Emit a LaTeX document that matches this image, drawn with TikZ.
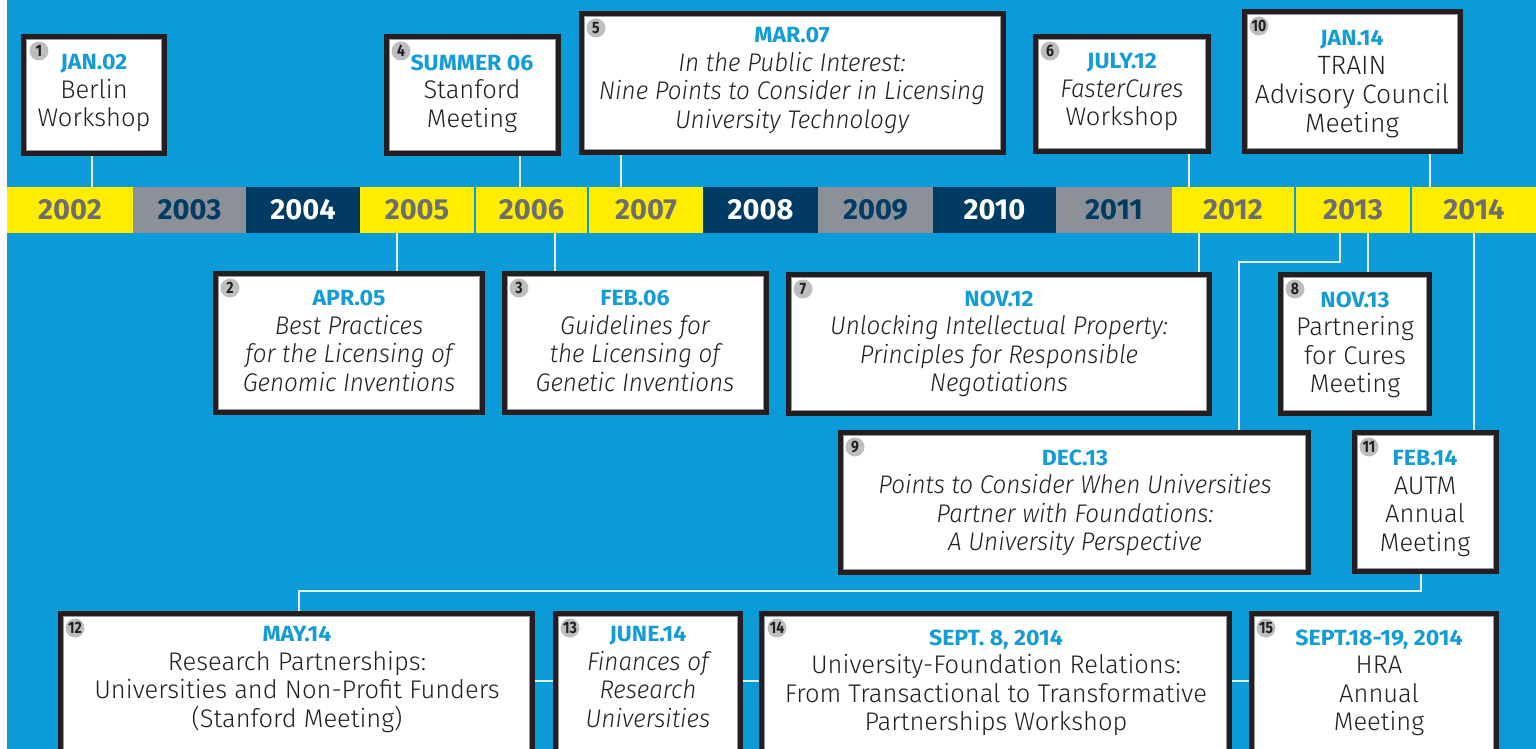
\documentclass[tikz,border=0pt]{standalone}
\usepackage{fontspec}
\setmainfont{Fira Sans}[UprightFont=* Light, ItalicFont=* Light Italic, BoldFont=* Bold, ItalicFeatures={FakeStretch=0.95}]
\newfontfamily\evdatefont{Fira Sans}[UprightFont=* Bold, ItalicFont=* Bold, FakeStretch=1.05]
\newfontfamily\evbadgefont{Fira Sans}[UprightFont=* Bold, ItalicFont=* Bold, FakeStretch=0.85]
\newfontfamily\evyearfont{Fira Sans}[UprightFont=* Bold]
\usetikzlibrary{backgrounds}
\definecolor{bg}{RGB}{11,155,216}
\definecolor{datec}{RGB}{20,156,215}
\definecolor{ink}{RGB}{35,31,32}
\definecolor{yel}{RGB}{255,237,0}
\definecolor{gry}{RGB}{140,144,153}
\definecolor{navy}{RGB}{0,59,100}
\definecolor{yeartxt}{RGB}{109,110,113}
\definecolor{badgec}{RGB}{188,190,192}
\definecolor{connc}{RGB}{225,240,248}
\newcommand\evdate[1]{{\upshape\evdatefont\fontsize{22}{28}\selectfont\color{datec}#1}}
\tikzset{
  evbox/.style={draw=ink, fill=white, line width=5pt, inner sep=0pt, outer sep=0pt, rectangle},
  innerl/.style={draw=black!40, line width=0.8pt},
  badge/.style={circle, fill=badgec, minimum size=19pt, inner sep=0pt, text=ink,
    font=\evbadgefont\fontsize{16.5}{16.5}\selectfont},
  txt/.style={align=center, text=ink, inner sep=0pt, anchor=north,
    font=\fontsize{25.5}{28.5}\selectfont},
  ittxt/.style={txt, font=\fontsize{25.5}{28.5}\selectfont\itshape},
  bigtxt/.style={txt, font=\fontsize{26.5}{28.8}\selectfont},
  seg/.style={rectangle, inner sep=0pt, outer sep=0pt, draw=none,
    font=\evyearfont\fontsize{29}{29}\selectfont},
  conn/.style={draw=connc, line width=1.5pt}
}
\newcommand\evbx[5]{%
  \node[evbox, minimum width={#4-#2-5}, minimum height={#5-#3-5}] (#1) at ({(#2+#4)/2},{(#3+#5)/2}) {};
  \draw[innerl] ([shift={(3,3)}]#1.north west) rectangle ([shift={(-3,-3)}]#1.south east);
}
\newcommand\yr[5]{\node[seg, fill=#4, text=#5, minimum width={#3-#2}, minimum height=46] (y#1) at ({(#2+#3)/2},210) {#1};}
\begin{document}
\begin{tikzpicture}[x=1pt,y=-1pt]
\useasboundingbox (0,0) rectangle (1536,749);
\begin{scope}[on background layer]
  \fill[white] (0,0) rectangle (1536,749);
  \fill[bg] (7,0) rectangle (1536,749);
\end{scope}
\clip (0,0) rectangle (1536,749);
% year bar
\yr{2002}{7}{133}{yel}{yeartxt}
\yr{2003}{133}{246}{gry}{navy}
\yr{2004}{246}{360}{navy}{white}
\yr{2005}{360}{474}{yel}{yeartxt}
\yr{2006}{476}{587}{yel}{yeartxt}
\yr{2007}{589}{703}{yel}{yeartxt}
\yr{2008}{703}{818}{navy}{white}
\yr{2009}{818}{933}{gry}{navy}
\yr{2010}{933}{1056}{navy}{white}
\yr{2011}{1056}{1172}{gry}{navy}
\yr{2012}{1172}{1294}{yel}{yeartxt}
\yr{2013}{1296}{1410}{yel}{yeartxt}
\yr{2014}{1412}{1536}{yel}{yeartxt}
% boxes
\evbx{b1}{21}{34}{167}{156}
\evbx{b4}{384}{34}{561}{156}
\evbx{b5}{579}{11}{1006}{155}
\evbx{b6}{1033}{34}{1211}{154}
\evbx{b10}{1242}{9}{1463}{154}
\evbx{b2}{213}{271}{485}{415}
\evbx{b3}{502}{271}{769}{415}
\evbx{b7}{786}{272}{1212}{416}
\evbx{b8}{1278}{272}{1432}{416}
\evbx{b9}{838}{430}{1311}{575}
\evbx{b11}{1352}{430}{1499}{574}
\evbx{b12}{58}{611}{535}{770}
\evbx{b13}{553}{611}{743}{770}
\evbx{b14}{759}{611}{1232}{770}
\evbx{b15}{1249}{611}{1499}{770}
% badges
\node[badge] (n1) at (39,51) {1};
\node[badge] (n4) at (401,51) {4};
\node[badge] (n5) at (596,28) {5};
\node[badge] (n6) at (1050,51) {6};
\node[badge] (n10) at (1259,26) {10};
\node[badge] (n2) at (230,288) {2};
\node[badge] (n3) at (519,288) {3};
\node[badge] (n7) at (803,289) {7};
\node[badge] (n8) at (1295,289) {8};
\node[badge] (n9) at (855,447) {9};
\node[badge] (n11) at (1369,447) {11};
\node[badge] (n12) at (75,628) {12};
\node[badge] (n13) at (570,628) {13};
\node[badge] (n14) at (777,628) {14};
\node[badge] (n15) at (1266,628) {15};
% texts
\node[txt] (t1) at (94,54.5) {\evdate{JAN.02}\\Berlin\\Workshop};
\node[txt] (t4) at (472,54.5) {\evdate{SUMMER 06}\\Stanford\\Meeting};
\node[ittxt] (t5) at (792,27.5) {\evdate{MAR.07}\\In the Public Interest:\\Nine Points to Consider in Licensing\\University Technology};
\node[txt] (t6) at (1122,53.5) {\evdate{JULY.12}\\\textit{FasterCures}\\Workshop};
\node[bigtxt] (t10) at (1352,30.5) {\evdate{JAN.14}\\TRAIN\\Advisory Council\\Meeting};
\node[ittxt] (t2) at (349,290.5) {\evdate{APR.05}\\Best Practices\\for the Licensing of\\Genomic Inventions};
\node[ittxt] (t3) at (635,290.5) {\evdate{FEB.06}\\Guidelines for\\the Licensing of\\Genetic Inventions};
\node[ittxt] (t7) at (999,290.5) {\evdate{NOV.12}\\Unlocking Intellectual Property:\\Principles for Responsible\\Negotiations};
\node[txt] (t8) at (1355,291.5) {\evdate{NOV.13}\\Partnering\\for Cures\\Meeting};
\node[ittxt] (t9) at (1075,449.5) {\evdate{DEC.13}\\Points to Consider When Universities\\Partner with Foundations:\\A University Perspective};
\node[txt] (t11) at (1425,450.5) {\evdate{FEB.14}\\AUTM\\Annual\\Meeting};
\node[txt] (t12) at (297,626.5) {\evdate{MAY.14}\\Research Partnerships:\\Universities and Non-Profit Funders\\(Stanford Meeting)};
\node[ittxt] (t13) at (648,626.5) {\evdate{JUNE.14}\\Finances of\\Research\\Universities};
\node[txt] (t14) at (996,629.5) {\evdate{SEPT. 8, 2014}\\University-Foundation Relations:\\From Transactional to Transformative\\Partnerships Workshop};
\node[txt] (t15) at (1379,629.5) {\evdate{SEPT.18-19, 2014}\\HRA\\Annual\\Meeting};
% connectors
\coordinate (x1) at (92,0);
\coordinate (x4) at (520,0);
\coordinate (x5) at (621,0);
\coordinate (x6) at (1189,0);
\coordinate (x10) at (1430,0);
\coordinate (x2) at (397,0);
\coordinate (x3) at (555,0);
\coordinate (x7) at (1199,0);
\coordinate (x8) at (1368,0);
\coordinate (x11) at (1474,0);
\coordinate (k9a) at (1340,262);
\coordinate (k9b) at (1239,262);
\coordinate (k12a) at (1421,591);
\coordinate (k12b) at (299,591);
\coordinate (hl) at (0,681);
\begin{scope}[on background layer]
  \draw[conn] (b1.south -| x1) -- (y2002.north -| x1);
  \draw[conn] (b4.south -| x4) -- (y2006.north -| x4);
  \draw[conn] (b5.south -| x5) -- (y2007.north -| x5);
  \draw[conn] (b6.south -| x6) -- (y2012.north -| x6);
  \draw[conn] (b10.south -| x10) -- (y2014.north -| x10);
  \draw[conn] (y2005.south -| x2) -- (b2.north -| x2);
  \draw[conn] (y2006.south -| x3) -- (b3.north -| x3);
  \draw[conn] (y2012.south -| x7) -- (b7.north -| x7);
  \draw[conn] (y2013.south -| x8) -- (b8.north -| x8);
  \draw[conn] (y2013.south -| k9a) -- (k9a) -- (k9b) -- (b9.north -| k9b);
  \draw[conn] (y2014.south -| x11) -- (b11.north -| x11);
  \draw[conn] (b11.south -| k12a) -- (k12a) -- (k12b) -- (b12.north -| k12b);
  \draw[conn] (b12.east |- hl) -- (b15.west |- hl);
\end{scope}
\end{tikzpicture}
\end{document}
